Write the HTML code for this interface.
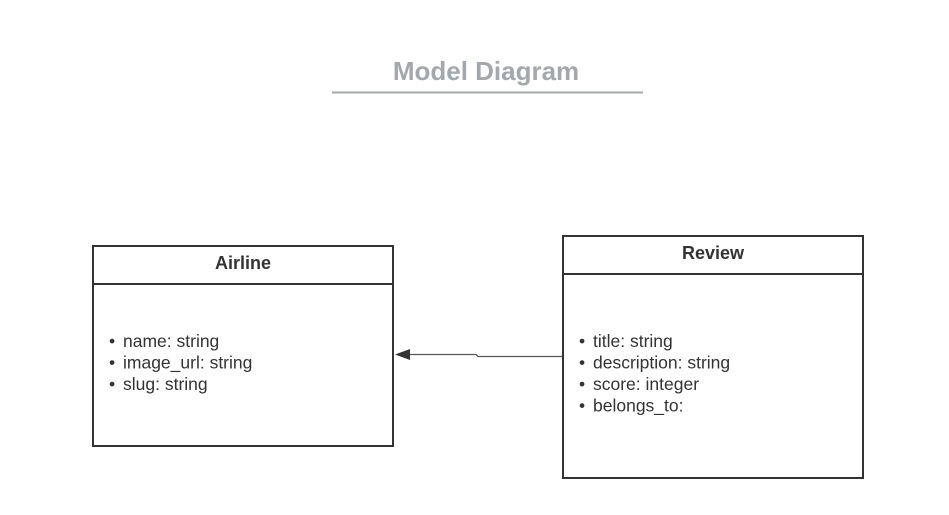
<!DOCTYPE html>
<html><head><meta charset="utf-8"><style>
html,body{margin:0;padding:0;background:#fff;width:949px;height:515px;overflow:hidden}
svg text{font-family:"Liberation Sans",Arial,sans-serif}
</style></head><body>
<svg width="949" height="515" viewBox="0 0 949 515" xmlns="http://www.w3.org/2000/svg">
<rect width="949" height="515" fill="#fff"/>
<text x="486" y="80" text-anchor="middle" font-size="26" font-weight="bold" fill="#a3a7ae">Model Diagram</text>
<line x1="332" y1="92.5" x2="643" y2="92.5" stroke="#a3a7ae" stroke-width="2"/>

<rect x="93" y="246" width="300" height="200" fill="#fff" stroke="#333" stroke-width="2"/>
<line x1="93" y1="284" x2="393" y2="284" stroke="#333" stroke-width="2"/>
<text x="243" y="269" text-anchor="middle" font-size="18" font-weight="bold" fill="#333">Airline</text>
<g font-size="17.5" fill="#333">
<text x="109" y="347">•</text><text x="123" y="347">name: string</text>
<text x="109" y="368.5">•</text><text x="123" y="368.5">image_url: string</text>
<text x="109" y="390">•</text><text x="123" y="390">slug: string</text>
</g>

<rect x="563" y="236" width="300" height="242" fill="#fff" stroke="#333" stroke-width="2"/>
<line x1="563" y1="274" x2="863" y2="274" stroke="#333" stroke-width="2"/>
<text x="713" y="259" text-anchor="middle" font-size="18" font-weight="bold" fill="#333">Review</text>
<g font-size="17.5" fill="#333">
<text x="579" y="347">•</text><text x="593" y="347">title: string</text>
<text x="579" y="368.5">•</text><text x="593" y="368.5">description: string</text>
<text x="579" y="390">•</text><text x="593" y="390">score: integer</text>
<text x="579" y="411.5">•</text><text x="593" y="411.5">belongs_to:</text>
</g>

<polyline points="562,356.5 478,356.5 476,354.5 410,354.5" fill="none" stroke="#555" stroke-width="1.3"/>
<polygon points="395,354.5 410,349 410,360" fill="#333"/>
</svg>
</body></html>
